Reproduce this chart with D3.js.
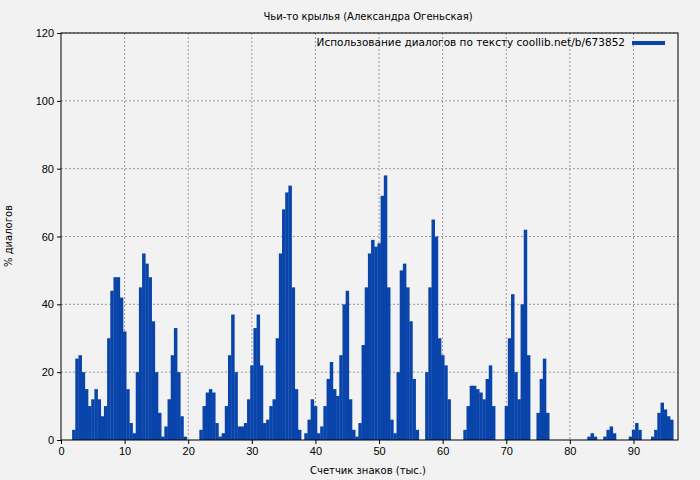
<!DOCTYPE html><html><head><meta charset="utf-8"><script src="https://cdn.jsdelivr.net/npm/d3@7"></script>
<style>body{margin:0;background:#f2f2f2}svg{font-family:"DejaVu Sans",sans-serif}</style></head><body><svg width="700" height="480"></svg>
<script>
const title="Чьи-то крылья (Александра Огеньская)";
const legendLabel="Использование диалогов по тексту coollib.net/b/673852";
const xLabel="Счетчик знаков (тыс.)";
const yLabel="% диалогов";
const xTicks=[0,10,20,30,40,50,60,70,80,90];
const yTicks=[0,20,40,60,80,100,120];
const step=0.5;
const xs=[2,2.5,3,3.5,4,4.5,5,5.5,6,6.5,7,7.5,8,8.5,9,9.5,10,10.5,11,11.5,12,12.5,13,13.5,14,14.5,15,15.5,16,16.5,17,17.5,18,18.5,19,19.5,
22,22.5,23,23.5,24,24.5,25,25.5,26,26.5,27,27.5,28,28.5,29,29.5,30,30.5,31,31.5,32,32.5,33,33.5,34,34.5,35,35.5,36,36.5,37,37.5,
38.5,39,39.5,40,40.5,41,41.5,42,42.5,43,43.5,44,44.5,45,45.5,46,46.5,47,47.5,48,48.5,49,49.5,50,50.5,51,51.5,52,52.5,53,53.5,54,54.5,55,55.5,56,
57.5,58,58.5,59,59.5,60,60.5,61,63.5,64,64.5,65,65.5,66,66.5,67,67.5,68,70,70.5,71,71.5,72,72.5,73,73.5,75,75.5,76,76.5,
83,83.5,84,85.5,86,86.5,87,89.5,90,90.5,91,93,93.5,94,94.5,95,95.5,96];
const ys=[3,24,25,20,15,10,12,15,12,7,10,30,44,48,48,42,32,15,5,2,20,45,55,52,48,35,20,8,1,4,12,25,33,20,7,1,
3,10,14,15,14,5,1,2,10,25,37,20,4,4,5,12,22,33,37,22,5,6,10,12,30,55,68,73,75,45,15,3,
2,6,12,10,2,4,10,18,23,15,13,25,40,44,12,3,1,5,28,45,55,59,57,58,72,78,45,6,2,20,50,52,45,35,18,3,
20,45,65,60,30,25,22,12,3,10,16,16,15,14,12,18,22,10,10,30,43,20,12,40,62,25,8,18,24,8,
1,2,1,1,3,4,2,1,3,5,3,1,3,8,11,9,7,6];
const svg=d3.select("svg");
const m={l:61,r:678,t:33,b:440};
const x=d3.scaleLinear().domain([0,97]).range([m.l,m.r]);
const y=d3.scaleLinear().domain([0,120]).range([m.b,m.t]);
svg.append("rect").attr("width",700).attr("height",480).attr("fill","#f2f2f2");
const g=svg.append("g");
xTicks.slice(1).forEach(t=>g.append("line").attr("x1",x(t)).attr("x2",x(t)).attr("y1",m.t).attr("y2",m.b).attr("stroke","#999").attr("stroke-dasharray","2,2"));
yTicks.slice(1).forEach(t=>g.append("line").attr("x1",m.l).attr("x2",m.r).attr("y1",y(t)).attr("y2",y(t)).attr("stroke","#999").attr("stroke-dasharray","2,2"));
g.selectAll("rect.b").data(xs.map((v,i)=>[v,ys[i]])).enter().append("rect")
 .attr("x",d=>x(d[0]-step/2)).attr("width",x(step)-x(0)+0.3).attr("y",d=>y(d[1])).attr("height",d=>y(0)-y(d[1])).attr("fill","#0844aa");
svg.append("rect").attr("x",m.l).attr("y",m.t).attr("width",m.r-m.l).attr("height",m.b-m.t).attr("fill","none").attr("stroke","#000");
svg.append("g").attr("transform",`translate(0,${m.b})`).call(d3.axisBottom(x).tickValues(xTicks).tickSize(4).tickSizeOuter(0)).call(a=>a.select(".domain").remove()).selectAll("text").attr("font-size",11).attr("fill","#000");
svg.append("g").attr("transform",`translate(${m.l},0)`).call(d3.axisLeft(y).tickValues(yTicks).tickSize(4).tickSizeOuter(0)).call(a=>a.select(".domain").remove()).selectAll("text").attr("font-size",11).attr("fill","#000");
svg.append("text").attr("x",368).attr("y",20).attr("text-anchor","middle").attr("font-size",10).text(title);
svg.append("text").attr("x",368).attr("y",474).attr("text-anchor","middle").attr("font-size",10).text(xLabel);
svg.append("text").attr("transform","translate(12,236) rotate(-90)").attr("text-anchor","middle").attr("font-size",10).text(yLabel);
svg.append("text").attr("x",625).attr("y",46).attr("text-anchor","end").attr("font-size",10.5).text(legendLabel);
svg.append("rect").attr("x",632).attr("y",41).attr("width",33).attr("height",4).attr("fill","#0844aa");
</script></body></html>
